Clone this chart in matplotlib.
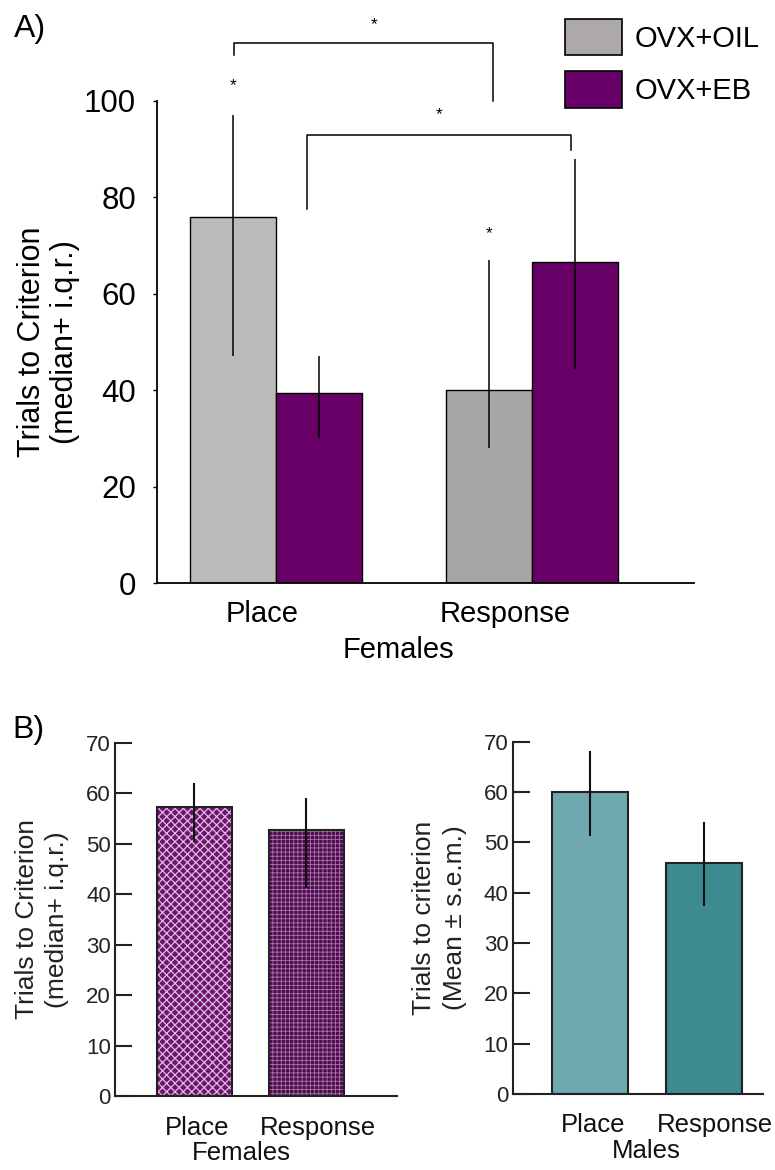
import matplotlib
matplotlib.use("Agg")
import matplotlib.pyplot as plt
from matplotlib.patches import Patch
import numpy as np

plt.rcParams['font.family'] = ['Liberation Sans', 'DejaVu Sans']

# ---------------- data ----------------
a_groups = ['Place', 'Response']
a_oil = [76, 40]
a_oil_lo = [47, 28]
a_oil_hi = [97, 67]
a_eb = [39.5, 66.5]
a_eb_lo = [30, 44.5]
a_eb_hi = [47, 88]
a_series = ['OVX+OIL', 'OVX+EB']
a_star_oil = [101.7, 71]          # single-asterisk heights above OIL bars
bracket1 = [109.5, 112, 100]      # left end, top, right end
bracket2 = [77.5, 93, 89.8]
a_yticks = [0, 20, 40, 60, 80, 100]

bf_groups = ['Place', 'Response']
bf_vals = [57.2, 52.8]
bf_lo = [50.3, 41.2]
bf_hi = [62, 59.1]

bm_groups = ['Place', 'Response']
bm_vals = [60, 46]
bm_lo = [51.2, 37.4]
bm_hi = [68.2, 54.1]
b_yticks = [0, 10, 20, 30, 40, 50, 60, 70]

fig = plt.figure(figsize=(7.75, 11.7), dpi=100)

# ---------------- Panel A ----------------
axA = fig.add_axes([0.2026, 0.5017, 0.6929, 0.412])
x = np.arange(len(a_groups))
w = 0.336
oil_cols = ['#BBBBBB', '#A6A6A6']
eb_col = '#660066'
axA.bar(x - w/2, a_oil, w, color=oil_cols, edgecolor='black', linewidth=1)
axA.bar(x + w/2, a_eb, w, color=eb_col, edgecolor='black', linewidth=1)
axA.vlines(x - w/2, a_oil_lo, a_oil_hi, color='black', linewidth=1.1)
axA.vlines(x + w/2, a_eb_lo, a_eb_hi, color='black', linewidth=1.1)
axA.set_xlim(-0.465, 1.633)
axA.set_ylim(0, 100)
axA.set_yticks(a_yticks)
axA.tick_params(axis='y', direction='out', length=3, width=1, labelsize=22.5, pad=12)
axA.set_xticks([-0.055, 0.895])
axA.set_xticklabels(a_groups)
axA.tick_params(axis='x', length=0, labelsize=21, pad=12)
for s in ['top', 'right']:
    axA.spines[s].set_visible(False)
for s in ['left', 'bottom']:
    axA.spines[s].set_linewidth(1.3)
axA.text(0.48, -0.11, 'Females', transform=axA.get_xaxis_transform(), ha='center', va='top', fontsize=21)
axA.set_ylabel('Trials to Criterion\n(median+ i.q.r.)', fontsize=22, labelpad=3, linespacing=1.12)

# asterisks above OIL bars
for xi, ys in zip(x - w/2, a_star_oil):
    axA.text(xi, ys, '*', ha='center', va='bottom', fontsize=12.5, clip_on=False)
# brackets
xl1, xr1 = x[0] - w/2 + 0.004, x[1] - w/2 + 0.016
axA.plot([xl1, xl1, xr1, xr1], [bracket1[0], bracket1[1], bracket1[1], bracket1[2]],
         color='black', lw=1.1, clip_on=False)
axA.text((xl1 + xr1) / 2 + 0.04, bracket1[1] + 2.3, '*', ha='center', va='bottom', fontsize=12.5, clip_on=False)
xl2, xr2 = x[0] + w/2 - 0.047, x[1] + w/2 - 0.016
axA.plot([xl2, xl2, xr2, xr2], [bracket2[0], bracket2[1], bracket2[1], bracket2[2]],
         color='black', lw=1.1, clip_on=False)
axA.text((xl2 + xr2) / 2, bracket2[1] + 2.6, '*', ha='center', va='bottom', fontsize=12.5, clip_on=False)

handles = [Patch(facecolor='#ADA9A9', edgecolor='black', linewidth=1.2),
           Patch(facecolor=eb_col, edgecolor='black', linewidth=1.2)]
fig.legend(handles, a_series, loc='upper left', bbox_to_anchor=(0.729, 0.984),
           frameon=False, fontsize=21, handlelength=1.95, handleheight=1.55,
           labelspacing=0.55, handletextpad=0.45, borderpad=0, borderaxespad=0)

fig.text(0.018, 0.988, 'A)', fontsize=23, ha='left', va='top')
fig.text(0.016, 0.389, 'B)', fontsize=23, ha='left', va='top')

# ---------------- Panel B left ----------------
def style_b(ax):
    for s in ['top', 'right']:
        ax.spines[s].set_visible(False)
    for s in ['left', 'bottom']:
        ax.spines[s].set_linewidth(1.5)
        ax.spines[s].set_color('#222222')
    ax.set_ylim(0, 70)
    ax.set_yticks(b_yticks)
    ax.tick_params(axis='y', direction='in', length=12, width=1.5, color='#222222',
                   labelsize=16, labelcolor='#222222', pad=3)
    ax.tick_params(axis='x', length=0, labelsize=18.5, labelcolor='#111111', pad=14)

axBL = fig.add_axes([0.1484, 0.0632, 0.3639, 0.302])
xb = np.arange(len(bf_groups))
wb = 0.67
hatch_face = ['#6e1470', '#560858']
hatch_cols = ['#dcbcdc', '#9a7e9a']
hatch_lws = [0.9, 0.6]
hatches = ['xxxx', '++++']
for xi, v, fc, hc, hl, h in zip(xb, bf_vals, hatch_face, hatch_cols, hatch_lws, hatches):
    with plt.rc_context({'hatch.linewidth': hl}):
        axBL.bar(xi, v, wb, color=fc, edgecolor=hc, hatch=h, linewidth=0)
axBL.bar(xb, bf_vals, wb, fill=False, edgecolor='#222222', linewidth=1.5)
axBL.vlines(xb, bf_lo, bf_hi, color='#111111', linewidth=1.5)
axBL.set_xlim(-0.71, 1.81)
axBL.set_xticks([0.02, 1.1])
axBL.set_xticklabels(bf_groups)
style_b(axBL)
axBL.text(0.42, -0.128, 'Females', transform=axBL.get_xaxis_transform(), ha='center', va='top', fontsize=18.5, color='#111111')
axBL.set_ylabel('Trials to Criterion\n(median+ i.q.r.)', fontsize=19, labelpad=12, color='#222222', linespacing=1.35)

# ---------------- Panel B right ----------------
axBR = fig.add_axes([0.6615, 0.065, 0.3226, 0.301])
xm = np.arange(len(bm_groups))
axBR.bar(xm, bm_vals, 0.667, color=['#6FA9AF', '#3D8A8F'], edgecolor='#222222', linewidth=1.5)
axBR.vlines(xm, bm_lo, bm_hi, color='#111111', linewidth=1.5)
axBR.set_xlim(-0.678, 1.515)
axBR.set_xticks([0.03, 1.1])
axBR.set_xticklabels(bm_groups)
style_b(axBR)
axBR.text(0.49, -0.128, 'Males', transform=axBR.get_xaxis_transform(), ha='center', va='top', fontsize=18.5, color='#111111')
axBR.set_ylabel('Trials to criterion\n(Mean ± s.e.m.)', fontsize=19, labelpad=12, color='#222222', linespacing=1.35)

fig.savefig('out.png', dpi=100)
